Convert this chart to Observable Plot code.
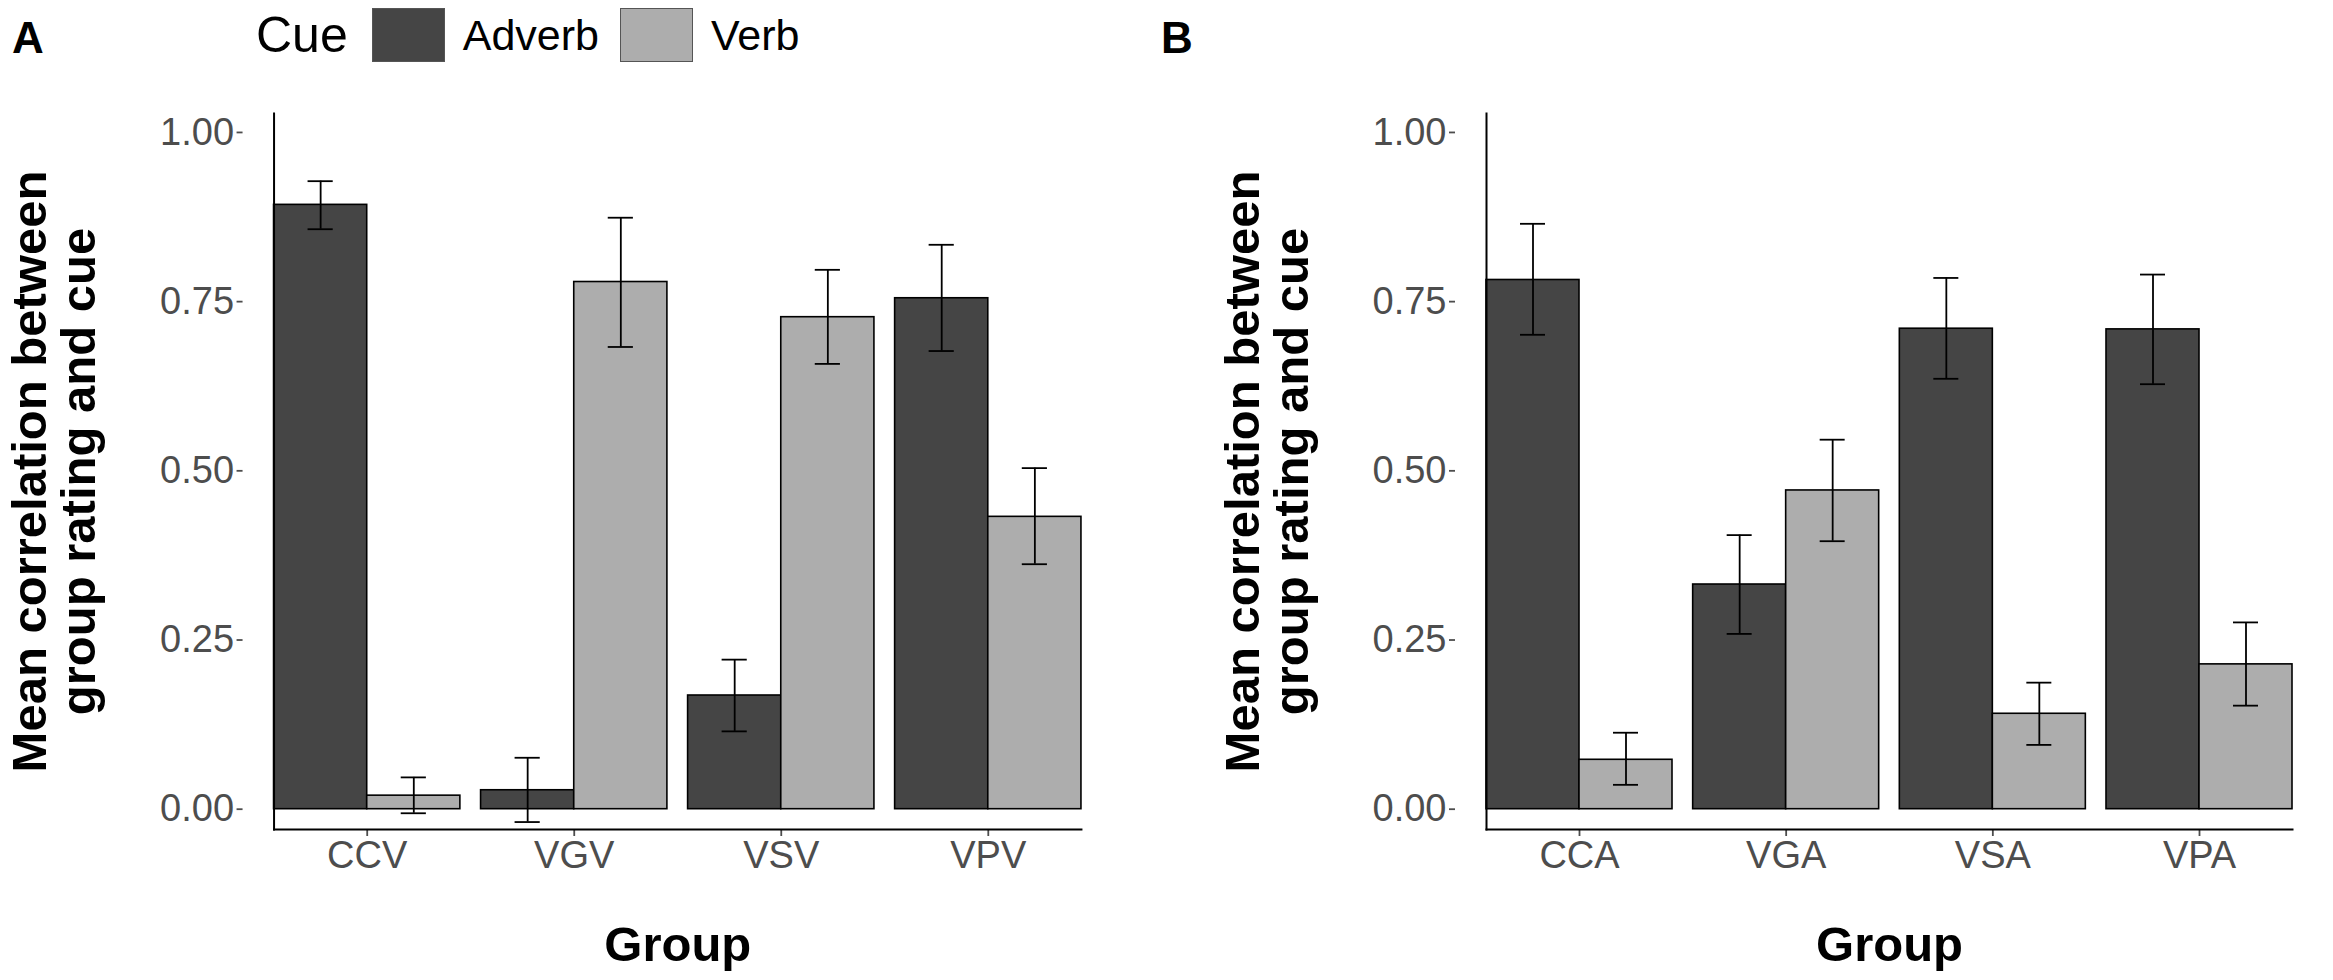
<!DOCTYPE html>
<html>
<head>
<meta charset="utf-8">
<script src="https://cdn.jsdelivr.net/npm/d3@7"></script>
<script src="https://cdn.jsdelivr.net/npm/@observablehq/plot@0.6"></script>
<style>
  html, body { margin: 0; padding: 0; background: white; }
  #root { position: relative; width: 2333px; height: 980px; background: white; overflow: hidden;
          font-family: "Liberation Sans", Arial, sans-serif; }
  .panel { position: absolute; top: 0; }
  .tag { position: absolute; font-weight: bold; font-size: 44px; line-height: 1; color: black; }
  #legend { position: absolute; left: 256px; top: 7px; height: 56px; display: flex; align-items: center; }
  #legend .title { font-size: 50px; margin-right: 24px; color: black; }
  #legend .key { width: 73px; height: 54px; box-sizing: border-box; border: 1.5px solid #555; }
  #legend .lab { font-size: 43px; margin-left: 18px; margin-right: 21px; color: black; }
</style>
</head>
<body>
<div id="root">
  <div id="panelA" class="panel" style="left:0px"></div>
  <div id="panelB" class="panel" style="left:1166px"></div>
  <div class="tag" style="left:12px; top:16px">A</div>
  <div class="tag" style="left:1161px; top:16px">B</div>
  <div id="legend"></div>
</div>
<script>
// ---- data ----
const groupsA = ["CCV", "VGV", "VSV", "VPV"];
const groupsB = ["CCA", "VGA", "VSA", "VPA"];
const cues = ["Adverb", "Verb"];
const cueFills = ["#454545", "#adadad"];

const adverbA    = [0.893, 0.028, 0.168, 0.755];
const adverbA_lo = [0.857, -0.019, 0.115, 0.677];
const adverbA_hi = [0.928, 0.076, 0.221, 0.834];
const verbA      = [0.020, 0.779, 0.727, 0.432];
const verbA_lo   = [-0.006, 0.683, 0.658, 0.362];
const verbA_hi   = [0.047, 0.874, 0.797, 0.504];

const adverbB    = [0.782, 0.332, 0.710, 0.709];
const adverbB_lo = [0.701, 0.259, 0.636, 0.628];
const adverbB_hi = [0.865, 0.405, 0.785, 0.790];
const verbB      = [0.073, 0.471, 0.141, 0.214];
const verbB_lo   = [0.036, 0.396, 0.095, 0.153];
const verbB_hi   = [0.113, 0.546, 0.187, 0.276];

const yTicks = [0, 0.25, 0.5, 0.75, 1];
const yDomain = [-0.03, 1.028];
const yTitle = "Mean correlation between\ngroup rating and cue";
const xTitle = "Group";
const legendTitle = "Cue";

function rows(groups, series) {
  const out = [];
  groups.forEach((g, i) => {
    series.forEach(s => out.push({group: g, cue: s.cue, value: s.v[i], lo: s.lo[i], hi: s.hi[i]}));
  });
  return out;
}
const dataA = rows(groupsA, [
  {cue: cues[0], v: adverbA, lo: adverbA_lo, hi: adverbA_hi},
  {cue: cues[1], v: verbA, lo: verbA_lo, hi: verbA_hi}
]);
const dataB = rows(groupsB, [
  {cue: cues[0], v: adverbB, lo: adverbB_lo, hi: adverbB_hi},
  {cue: cues[1], v: verbB, lo: verbB_lo, hi: verbB_hi}
]);

function panel(groups, data, width, marginLeft, marginRight, titleDx) {
  return Plot.plot({
    width, height: 980,
    marginTop: 113, marginBottom: 151, marginLeft, marginRight,
    style: {fontFamily: '"Liberation Sans", Arial, sans-serif', fontSize: "38px", background: "white", overflow: "visible", color: "black"},
    fx: {domain: groups, paddingInner: 0.1, paddingOuter: 0.15, round: false, label: null},
    x: {domain: cues, padding: 0, axis: null, round: false},
    y: {domain: yDomain, label: null},
    color: {domain: cues, range: cueFills},
    marks: [
      Plot.barY(data, {fx: "group", x: "cue", y: "value", fill: "cue", stroke: "black", strokeWidth: 1.6}),
      Plot.ruleX(data, {fx: "group", x: "cue", y1: "lo", y2: "hi", stroke: "black", strokeWidth: 1.8}),
      Plot.tickY(data, {fx: "group", x: "cue", y: "lo", insetLeft: 34, insetRight: 34, stroke: "black", strokeWidth: 1.8}),
      Plot.tickY(data, {fx: "group", x: "cue", y: "hi", insetLeft: 34, insetRight: 34, stroke: "black", strokeWidth: 1.8}),
      Plot.axisY({dx: -31, ticks: yTicks, tickFormat: d3.format(".2f"), tickSize: 6, tickPadding: 3, fontSize: 38, color: "#4d4d4d", label: null, strokeWidth: 1.8}),
      Plot.axisFx({anchor: "bottom", tickSize: 7, tickPadding: 5, fontSize: 38, color: "#4d4d4d", label: null, strokeWidth: 1.8}),
      Plot.frame({anchor: "left", facet: "super", stroke: "black", strokeWidth: 2}),
      Plot.frame({anchor: "bottom", facet: "super", stroke: "black", strokeWidth: 2}),
      Plot.text([yTitle], {facet: "super", frameAnchor: "left", textAnchor: "middle", dx: titleDx, rotate: -90, text: d => d,
        fontSize: 49, fontWeight: "bold", lineHeight: 1.0, fill: "black"}),
      Plot.text([xTitle], {facet: "super", frameAnchor: "bottom", dy: 131, text: d => d,
        fontSize: 49, fontWeight: "bold", fill: "black"})
    ]
  });
}

document.getElementById("panelA").append(panel(groupsA, dataA, 1166, 242.5, 54, -219));
document.getElementById("panelB").append(panel(groupsB, dataB, 1167, 289, 10, -219));

// legend (HTML, above the plot area)
const legend = document.getElementById("legend");
const t = document.createElement("span");
t.className = "title"; t.textContent = legendTitle;
legend.append(t);
cues.forEach((c, i) => {
  const k = document.createElement("span");
  k.className = "key"; k.style.background = cueFills[i];
  const l = document.createElement("span");
  l.className = "lab"; l.textContent = c;
  legend.append(k, l);
});
</script>
</body>
</html>
